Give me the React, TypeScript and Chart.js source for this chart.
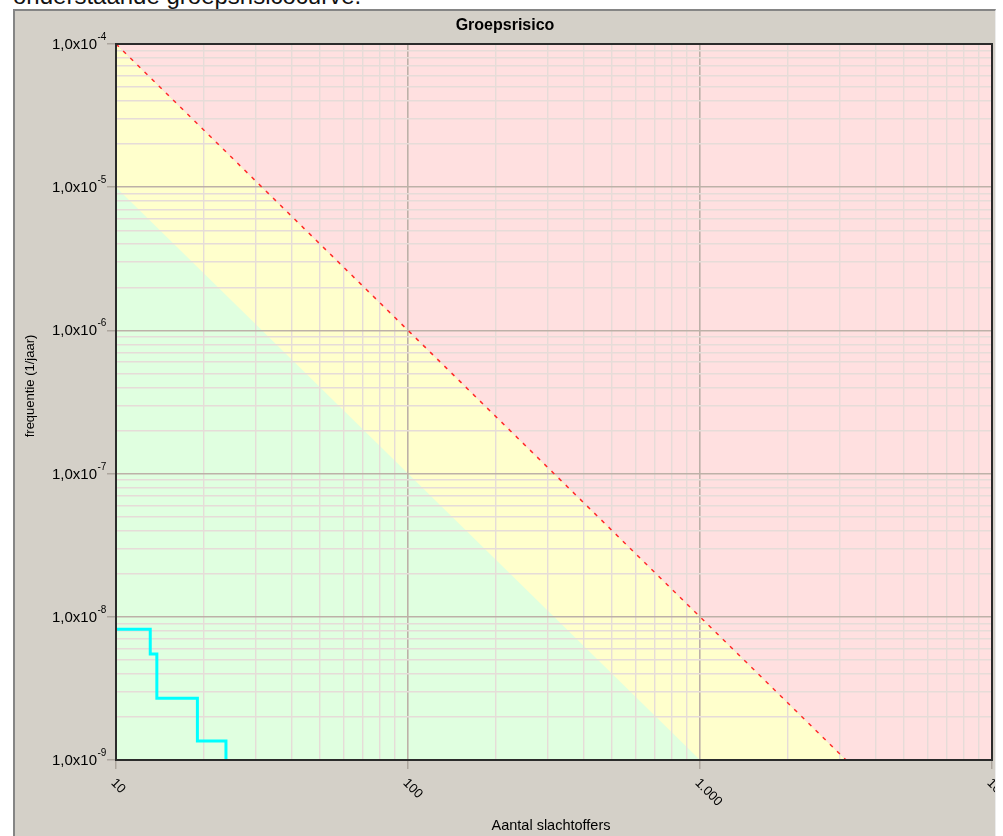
import React, { useEffect, useRef } from 'react';
import { Chart, registerables } from 'chart.js';

Chart.register(...registerables);

// ---- texts ----
const pageText = 'onderstaande groepsrisicocurve.';
const chartTitle = 'Groepsrisico';
const xTitle = 'Aantal slachtoffers';
const yTitle = 'frequentie (1/jaar)';

// ---- axes ----
const xMin = 10;
const xMax = 10000;
const yMin = 1e-9;
const yMax = 1e-4;
const xMajorTicks = [10, 100, 1000, 10000];
const xTickLabels = ['10', '100', '1.000', '10.000'];
const yMajorTicks = [1e-4, 1e-5, 1e-6, 1e-7, 1e-8, 1e-9];
const yTickMantissa = '1,0x10';
const yTickExponents = ['-4', '-5', '-6', '-7', '-8', '-9'];
const minorMultipliers = [1, 2, 3, 4, 5, 6, 7, 8, 9];

// ---- norm lines (zone boundaries) ----
const normN = [10, 10000];
const normF = [1e-4, 1e-10]; // orientatiewaarde
const lowerN = [10, 10000];
const lowerF = [1e-5, 1e-11];

// ---- groepsrisicocurve (step) ----
const grN = [10, 13.1, 13.8, 19, 23.8];
const grF = [8.2e-9, 5.5e-9, 2.7e-9, 1.36e-9, 1e-9];

const FONT = '"Liberation Sans", Arial, sans-serif';

const isMajor = (v: number) => Math.abs(Math.log10(v) - Math.round(Math.log10(v))) < 1e-6;

const gridValues = (majors: number[]) => {
  const out: number[] = [];
  const sorted = [...majors].sort((a, b) => a - b);
  for (let i = 0; i < sorted.length - 1; i++) {
    minorMultipliers.forEach((m) => out.push(Number((sorted[i] * m).toPrecision(6))));
  }
  out.push(sorted[sorted.length - 1]);
  return out;
};

const xy = (xs: number[], ys: number[]) => xs.map((x, i) => ({ x, y: ys[i] }));

const MAJOR_GRID = '#bdb1a8';
const MINOR_GRID = '#e6dcd8';
const TICK_MARK = '#a39b93';

const gridOpts = {
  color: (ctx: any) => (ctx.tick && isMajor(ctx.tick.value) ? MAJOR_GRID : MINOR_GRID),
  lineWidth: (ctx: any) => (ctx.tick && isMajor(ctx.tick.value) ? 1.6 : 1.4),
  tickColor: (ctx: any) => (ctx.tick && isMajor(ctx.tick.value) ? TICK_MARK : 'rgba(0,0,0,0)'),
  tickLength: 9,
  tickWidth: 1.2,
  drawTicks: true,
};

const labelPlugin = {
  id: 'groepsLabels',
  afterDraw(chart: any) {
    const { ctx, chartArea: a } = chart;
    const x = chart.scales.x;
    const y = chart.scales.y;
    ctx.save();
    // frame
    ctx.strokeStyle = '#2b2b2b';
    ctx.lineWidth = 2;
    ctx.strokeRect(a.left, a.top, a.right - a.left, a.bottom - a.top);

    ctx.fillStyle = '#000';
    // title
    ctx.font = `bold 16px ${FONT}`;
    ctx.textAlign = 'center';
    ctx.textBaseline = 'middle';
    ctx.fillText(chartTitle, 505, 26);

    // y tick labels
    yMajorTicks.forEach((v, i) => {
      const py = y.getPixelForValue(v);
      ctx.font = `15px ${FONT}`;
      ctx.textAlign = 'right';
      ctx.textBaseline = 'alphabetic';
      ctx.fillText(yTickMantissa, a.left - 19, py + 5);
      ctx.font = `10px ${FONT}`;
      ctx.textAlign = 'left';
      ctx.fillText(yTickExponents[i], a.left - 18.5, py - 4);
    });

    // axis titles
    ctx.font = `14.5px ${FONT}`;
    ctx.textAlign = 'center';
    ctx.textBaseline = 'middle';
    ctx.fillText(xTitle, (a.left + a.right) / 2 - 3, 826);
    ctx.save();
    ctx.translate(30, 386);
    ctx.rotate(-Math.PI / 2);
    ctx.font = `13px ${FONT}`;
    ctx.fillText(yTitle, 0, 0);
    ctx.restore();

    // x tick labels (rotated, clipped at the panel edge)
    ctx.beginPath();
    ctx.rect(0, 0, 995, 836);
    ctx.clip();
    ctx.font = `13px ${FONT}`;
    xMajorTicks.forEach((v, i) => {
      const px = x.getPixelForValue(v);
      ctx.save();
      ctx.translate(px - 3, a.bottom + 21);
      ctx.rotate(Math.PI / 4);
      ctx.textAlign = 'left';
      ctx.textBaseline = 'middle';
      ctx.fillText(xTickLabels[i], 0, 0);
      ctx.restore();
    });
    ctx.restore();
  },
};

export default function App() {
  const ref = useRef<HTMLCanvasElement>(null);

  useEffect(() => {
    if (!ref.current) return;
    const chart = new Chart(ref.current, {
      type: 'line',
      data: {
        datasets: [
          {
            label: 'Groepsrisico',
            data: xy(grN, grF),
            borderColor: '#00ffff',
            borderWidth: 3,
            stepped: 'before',
            pointRadius: 0,
            fill: false,
            order: 0,
          },
          {
            label: 'ondergrens',
            data: xy(lowerN, lowerF),
            borderColor: 'rgba(0,0,0,0)',
            borderWidth: 1,
            backgroundColor: '#e0ffe0',
            fill: 'start',
            pointRadius: 0,
            order: 1,
          },
          {
            label: 'oriëntatiewaarde',
            data: xy(normN, normF),
            borderColor: '#ff2a2a',
            borderWidth: 1.5,
            borderDash: [4, 6],
            backgroundColor: '#ffffcc',
            fill: 'start',
            pointRadius: 0,
            order: 2,
          },
          {
            label: 'boven',
            data: xy(normN, normF),
            borderColor: 'rgba(0,0,0,0)',
            borderWidth: 1,
            backgroundColor: '#ffe0e0',
            fill: 'end',
            pointRadius: 0,
            order: 3,
          },
        ],
      } as any,
      options: {
        animation: false,
        responsive: false,
        devicePixelRatio: 1,
        layout: { padding: { left: 106, right: 11, top: 44, bottom: 66 } },
        plugins: {
          legend: { display: false },
          title: { display: false },
          tooltip: { enabled: false },
          filler: { drawTime: 'beforeDraw', propagate: false },
        } as any,
        scales: {
          x: {
            type: 'logarithmic',
            position: 'bottom',
            min: xMin,
            max: xMax,
            afterBuildTicks: (s: any) => {
              s.ticks = gridValues(xMajorTicks).map((v) => ({ value: v, major: isMajor(v) }));
            },
            afterFit: (s: any) => {
              s.height = 10;
            },
            ticks: { display: false },
            grid: gridOpts as any,
            border: { display: false },
          },
          y: {
            type: 'logarithmic',
            position: 'left',
            min: yMin,
            max: yMax,
            afterBuildTicks: (s: any) => {
              s.ticks = gridValues(yMajorTicks).map((v) => ({ value: v, major: isMajor(v) }));
            },
            afterFit: (s: any) => {
              s.width = 10;
            },
            ticks: { display: false },
            grid: gridOpts as any,
            border: { display: false },
          },
        } as any,
      },
      plugins: [labelPlugin],
    });
    return () => chart.destroy();
  }, []);

  return (
    <div
      style={{
        position: 'absolute',
        left: 0,
        top: 0,
        width: 1003,
        height: 836,
        overflow: 'hidden',
        background: '#ffffff',
      }}
    >
      <div
        style={{
          position: 'absolute',
          left: 13,
          top: -16,
          font: `24px ${FONT}`,
          lineHeight: '24px',
          color: '#111',
          whiteSpace: 'nowrap',
        }}
      >
        {pageText}
      </div>
      <div
        style={{
          position: 'absolute',
          left: 13,
          top: 9,
          width: 980,
          height: 840,
          background: '#d4d0c8',
          borderLeft: '2px solid #858585',
          borderTop: '2px solid #858585',
          borderRight: '1px solid #ececec',
        }}
      />
      <canvas
        ref={ref}
        width={1003}
        height={836}
        style={{ position: 'absolute', left: 0, top: 0, width: 1003, height: 836 }}
      />
    </div>
  );
}
